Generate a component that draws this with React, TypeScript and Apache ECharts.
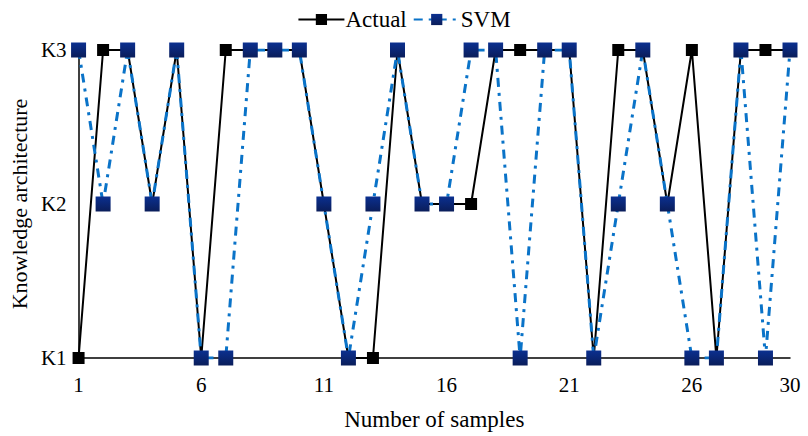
import React, { useEffect, useRef } from "react";
import * as echarts from "echarts";

const samples: string[] = Array.from({ length: 30 }, (_, i) => String(i + 1));
const levels: string[] = ["K1", "K2", "K3"];
const actual: string[] = [
  "K1", "K3", "K3", "K2", "K3", "K1", "K3", "K3", "K3", "K3",
  "K2", "K1", "K1", "K3", "K2", "K2", "K2", "K3", "K3", "K3",
  "K3", "K1", "K3", "K3", "K2", "K3", "K1", "K3", "K3", "K3",
];
const svm: string[] = [
  "K3", "K2", "K3", "K2", "K3", "K1", "K1", "K3", "K3", "K3",
  "K2", "K1", "K2", "K3", "K2", "K2", "K3", "K3", "K1", "K3",
  "K3", "K1", "K2", "K3", "K2", "K1", "K1", "K3", "K1", "K3",
];

const FONT = "Liberation Serif";

export default function App() {
  const ref = useRef<HTMLDivElement>(null);
  useEffect(() => {
    if (!ref.current) return;
    const chart = echarts.init(ref.current, null, { renderer: "svg" });
    const navy = new echarts.graphic.LinearGradient(0, 0, 0, 1, [
      { offset: 0, color: "#0B3090" },
      { offset: 1, color: "#0A1D5A" },
    ]);
    chart.setOption({
      animation: false,
      backgroundColor: "#ffffff",
      textStyle: { fontFamily: FONT, color: "#000" },
      legend: {
        top: 3,
        left: "center",
        itemWidth: 46,
        itemHeight: 14,
        itemGap: 6,
        textStyle: { fontFamily: FONT, fontSize: 23, color: "#000", padding: [0, 0, 0, -4] },
        data: ["Actual", "SVM"],
      },
      grid: { left: 76, right: 18, top: 50, bottom: 71, containLabel: false },
      xAxis: {
        type: "category",
        data: samples,
        boundaryGap: false,
        name: "Number of samples",
        nameLocation: "middle",
        nameGap: 50,
        nameTextStyle: { fontFamily: FONT, fontSize: 23, color: "#000" },
        axisLine: { lineStyle: { color: "#000", width: 1.5 } },
        axisTick: {
          inside: true,
          length: 6,
          interval: (i: number) => i % 5 === 0,
          lineStyle: { color: "#000", width: 1.5 },
        },
        axisLabel: {
          interval: (i: number) => i % 5 === 0 || i === 29,
          margin: 16,
          fontFamily: FONT,
          fontSize: 21,
          color: "#000",
        },
        splitLine: { show: false },
      },
      yAxis: {
        type: "category",
        data: levels,
        boundaryGap: false,
        name: "Knowledge architecture",
        nameLocation: "middle",
        nameGap: 42,
        nameTextStyle: { fontFamily: FONT, fontSize: 22, color: "#000" },
        axisLine: { lineStyle: { color: "#000", width: 1.5 } },
        axisTick: { inside: true, length: 7, lineStyle: { color: "#000", width: 1.5 } },
        axisLabel: { margin: 12, fontFamily: FONT, fontSize: 21, color: "#000" },
        splitLine: { show: false },
      },
      series: [
        {
          name: "Actual",
          type: "line",
          data: actual,
          symbol: "rect",
          symbolSize: 12,
          itemStyle: { color: "#000" },
          lineStyle: { color: "#000", width: 2 },
          z: 2,
        },
        {
          name: "SVM",
          type: "line",
          data: svm,
          symbol: "rect",
          symbolSize: 15,
          itemStyle: { color: navy },
          lineStyle: { color: "#0A73C8", width: 3, type: [9, 6, 3, 6] },
          z: 3,
        },
      ],
    });
    return () => chart.dispose();
  }, []);
  return (
    <div
      ref={ref}
      style={{ position: "absolute", left: 0, top: 0, width: 808, height: 436 }}
    />
  );
}
